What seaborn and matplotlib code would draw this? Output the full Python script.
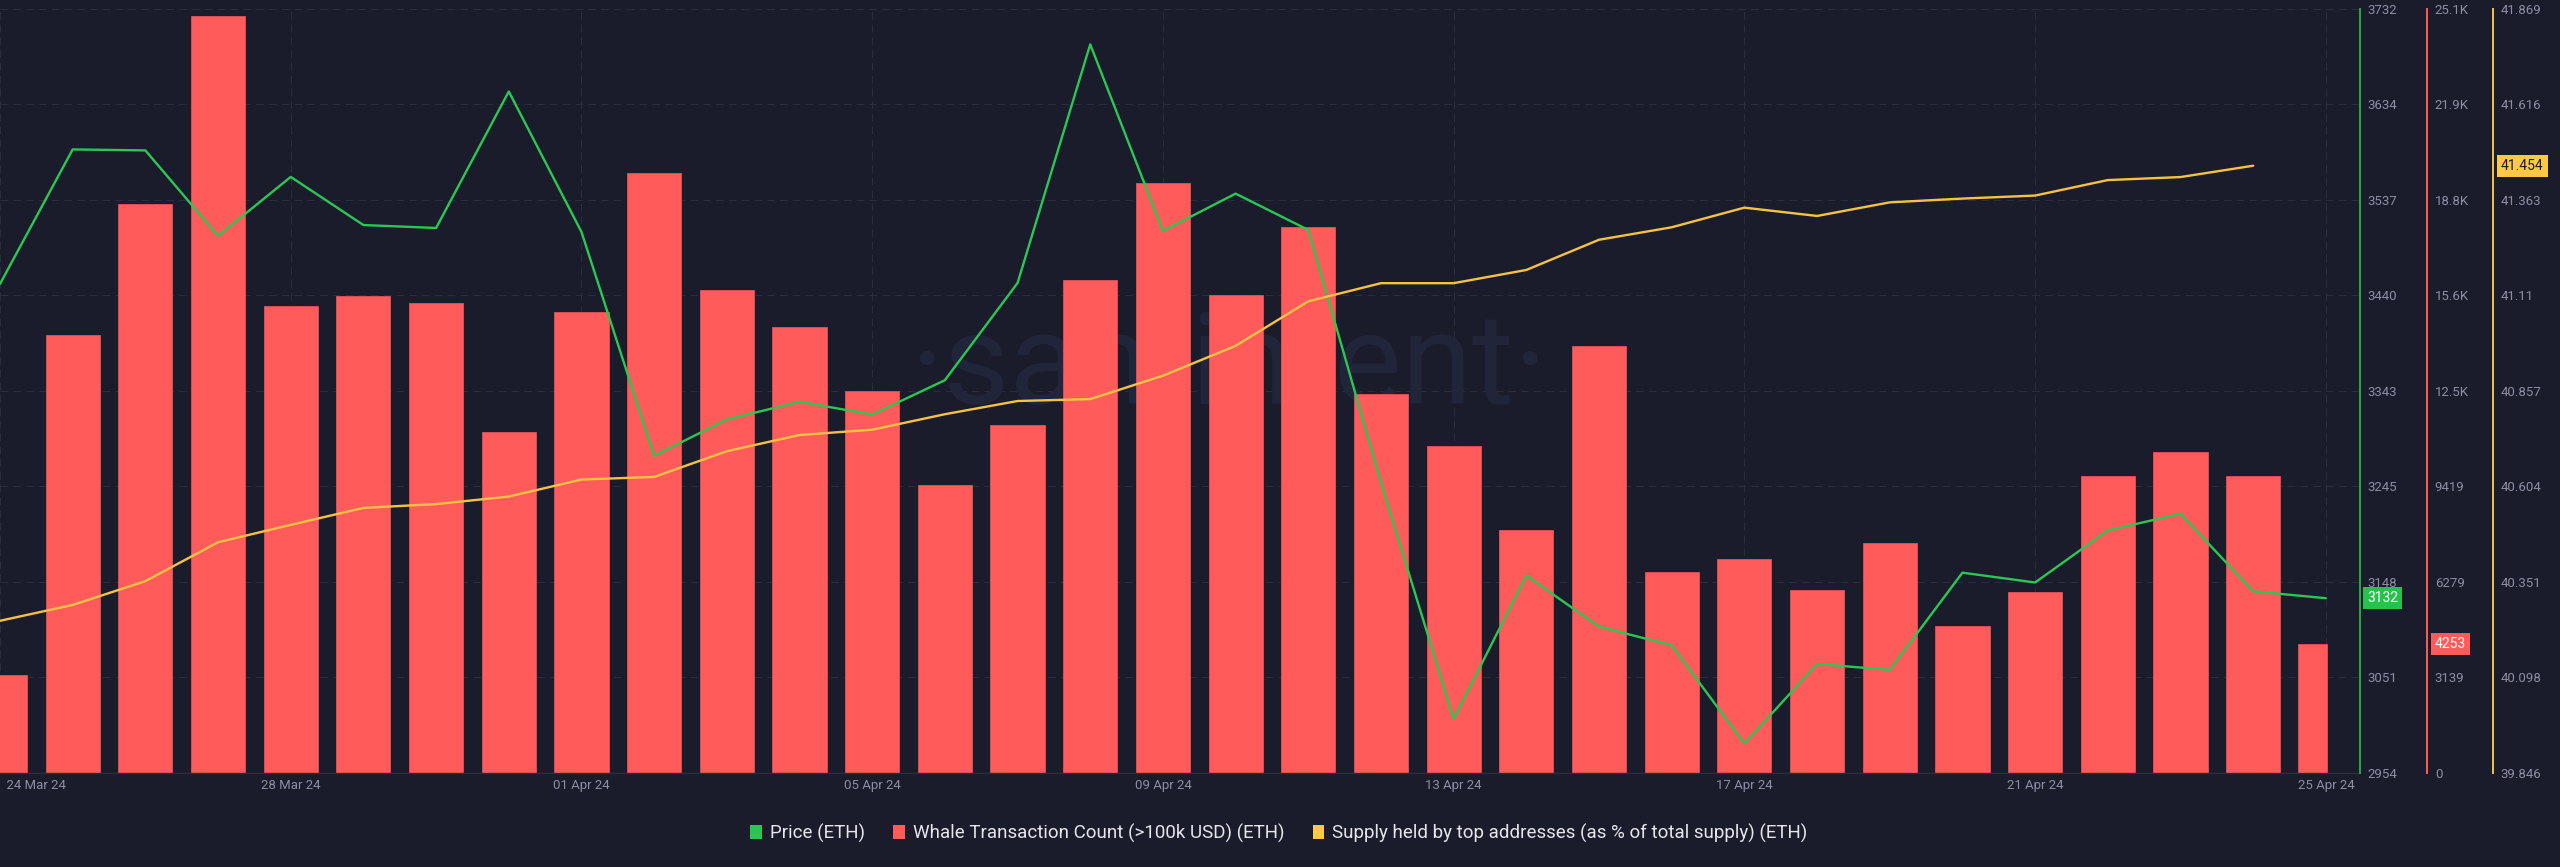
import numpy as np
import pandas as pd
import matplotlib
matplotlib.use("Agg")
import matplotlib.pyplot as plt
import matplotlib.transforms as mtransforms
from matplotlib.patches import Patch
import seaborn as sns

# ---------------- data ----------------
start_date = "2024-03-24"
whale_count = [3235, 14405, 18705, 24873, 15336, 15697, 15467, 11216, 15158, 19721,
               15878, 14649, 12574, 9465, 11427, 16220, 19409, 15714, 17936, 12459,
               10757, 7978, 14027, 6604, 7028, 6016, 7568, 4819, 5934, 9760,
               10562, 9760, 4253]
price = [3452, 3589, 3588, 3501, 3561, 3512, 3509, 3648, 3505, 3277,
         3314, 3332, 3319, 3354, 3453, 3696, 3506, 3544, 3507, 3250,
         3009, 3155, 3103, 3084, 2984, 3065, 3059, 3158, 3148, 3201,
         3218, 3139, 3132]
supply = [40.249, 40.291, 40.354, 40.457, 40.503, 40.548, 40.558, 40.578, 40.623, 40.630,
          40.698, 40.741, 40.755, 40.796, 40.831, 40.836, 40.898, 40.977, 41.095, 41.143,
          41.143, 41.178, 41.258, 41.291, 41.343, 41.321, 41.357, 41.367, 41.375, 41.416,
          41.424, 41.454]

price_tick_labels = ["2954", "3051", "3148", "3245", "3343", "3440", "3537", "3634", "3732"]
whale_tick_labels = ["0", "3139", "6279", "9419", "12.5K", "15.6K", "18.8K", "21.9K", "25.1K"]
supply_tick_labels = ["39.846", "40.098", "40.351", "40.604", "40.857", "41.11", "41.363", "41.616", "41.869"]
price_range = (2954, 3732)
whale_range = (0, 25116)
supply_range = (39.846, 41.869)

legend_labels = ["Price (ETH)",
                 "Whale Transaction Count (>100k USD) (ETH)",
                 "Supply held by top addresses (as % of total supply) (ETH)"]

# ---------------- style ----------------
BG = "#1a1c2b"
GRID = "#2a2d3f"
GREEN = "#2cc653"
GREEN_SP = "#26a944"
RED = "#ff5b5b"
YEL = "#f7c244"
YEL_B = "#ffc945"
TXT = "#8a8fa3"

sns.set_style("dark")
plt.rcParams["font.family"] = ["Roboto", "DejaVu Sans"]

dates = pd.date_range(start_date, periods=len(whale_count), freq="D")
days = np.arange(len(whale_count))

fig = plt.figure(figsize=(25.6, 8.67), dpi=100, facecolor=BG)
ax = fig.add_axes([0.0, 0.10842, 0.92188, 0.8812])
ax.set_facecolor(BG)
axp = ax.twinx()
axs = ax.twinx()

# bars (full days)
df_bars = pd.DataFrame({"day": days[:-1], "whale": whale_count[:-1]})
bar_w = 0.745
sns.barplot(data=df_bars, x="day", y="whale", native_scale=True, width=bar_w,
            color=RED, saturation=1, errorbar=None, ax=ax,
            edgecolor="#e0525a", linewidth=0.6)
# partial last day
pw = bar_w * 0.52
ax.bar(days[-1] + 0.01 - pw / 2, whale_count[-1], width=pw, color=RED,
       edgecolor="#e0525a", linewidth=0.6)

# lines
sns.lineplot(x=days, y=price, ax=axp, color=GREEN, linewidth=1.7, legend=False)
sns.lineplot(x=days[:len(supply)], y=supply, ax=axs, color=YEL, linewidth=1.7, legend=False)

# limits & ticks
ax.set_xlim(0, 32.47)
ax.set_ylim(*whale_range)
axp.set_ylim(*price_range)
axs.set_ylim(*supply_range)

ax.set_yticks(np.linspace(*whale_range, 9))
ax.set_yticklabels(whale_tick_labels)
axp.set_yticks(np.linspace(*price_range, 9))
axp.set_yticklabels(price_tick_labels)
axs.set_yticks(np.linspace(*supply_range, 9))
axs.set_yticklabels(supply_tick_labels)

xt = days[::4]
ax.set_xticks(xt)
xlabels = [d.strftime("%d %b %y") for d in dates[::4]]
xlabels[0] = "  " + xlabels[0]
ax.set_xticklabels(xlabels)
ax.get_xticklabels()[0].set_ha("left")

for a in (ax, axp, axs):
    a.set_xlabel("")
    a.set_ylabel("")
    for s in a.spines.values():
        s.set_visible(False)

ax.yaxis.tick_right()
ax.yaxis.set_label_position("right")
ax.spines["right"].set_visible(True)
ax.spines["right"].set_position(("axes", 2427 / 2360))
ax.spines["right"].set_color(RED)
ax.spines["right"].set_linewidth(1.4)
ax.spines["bottom"].set_visible(True)
ax.spines["bottom"].set_color(GRID)
ax.spines["bottom"].set_linewidth(1.0)

axp.spines["right"].set_visible(True)
axp.spines["right"].set_color(GREEN_SP)
axp.spines["right"].set_linewidth(1.4)

axs.spines["right"].set_visible(True)
axs.spines["right"].set_position(("axes", 2493 / 2360))
axs.spines["right"].set_color(YEL)
axs.spines["right"].set_linewidth(1.4)

for a in (ax, axp, axs):
    a.tick_params(axis="y", length=0, pad=5.6, labelsize=9.5, labelcolor=TXT)
ax.tick_params(axis="x", length=0, pad=4, labelsize=9.5, labelcolor=TXT)

ax.grid(True, axis="both", color=GRID, linewidth=0.8, linestyle=(0, (7, 4.5)))
ax.set_axisbelow(True)

# watermark
ax.text(0.5208, 0.529, "·santiment·", transform=ax.transAxes, ha="center", va="center",
        fontsize=92, color="#21253a", fontweight="normal", zorder=0.6)

# value badges
tp = mtransforms.blended_transform_factory(axp.transAxes, axp.transData)
axp.text(1.0 + 7 / 2360, price[-1], f"{price[-1]}", transform=tp, ha="left", va="center",
         fontsize=10, color="white", clip_on=False, zorder=10,
         bbox=dict(boxstyle="square,pad=0.28", fc="#27c24c", ec="none"))
tw = mtransforms.blended_transform_factory(ax.transAxes, ax.transData)
ax.text(2435 / 2360, whale_count[-1], f"{whale_count[-1]}", transform=tw, ha="left", va="center",
        fontsize=10, color="white", clip_on=False, zorder=10,
        bbox=dict(boxstyle="square,pad=0.28", fc=RED, ec="none"))
ts = mtransforms.blended_transform_factory(axs.transAxes, axs.transData)
axs.text(2501 / 2360, supply[-1], f"{supply[-1]:.3f}", transform=ts, ha="left", va="center",
         fontsize=10, color=BG, clip_on=False, zorder=10,
         bbox=dict(boxstyle="square,pad=0.28", fc=YEL_B, ec="none"))

# legend
handles = [Patch(fc=c, ec="none", label=l) for c, l in zip([GREEN, RED, YEL_B], legend_labels)]
fig.legend(handles=handles, loc="center", bbox_to_anchor=(0.4996, 0.0392), ncol=3,
           frameon=False, fontsize=13.5, labelcolor="#e6e6ea", handlelength=0.6,
           handleheight=0.8, handletextpad=0.45, columnspacing=1.5)

fig.savefig("out.png", dpi=100, facecolor=BG)
